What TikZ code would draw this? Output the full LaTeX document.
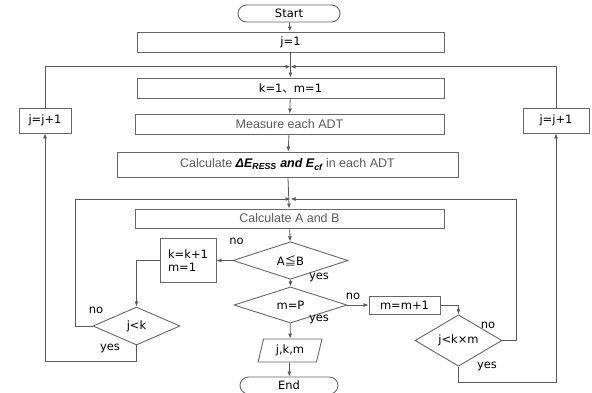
\documentclass[tikz,border=0pt]{standalone}
\usepackage{fontspec}
\setmainfont{DejaVu Sans}
\newfontfamily\thinsf{Liberation Sans}
\newfontfamily\cjk{Noto Sans CJK JP}
\usepackage{xcolor}
\usetikzlibrary{arrows.meta,positioning,shapes.geometric,shapes.misc}
\newcommand{\gtxt}[1]{{\thinsf\color{black!65}#1}}
\newcommand{\bi}[1]{{\thinsf\bfseries\itshape #1}}

\begin{document}
\begin{tikzpicture}[
  x=1pt,y=-1pt,
  font=\fontsize{11.5}{13}\selectfont,
  proc/.style={draw=black!60,line width=0.9pt,minimum height=20pt,inner sep=2pt,align=center},
  term/.style={draw=black!60,line width=0.9pt,rounded rectangle,minimum width=102pt,minimum height=17pt,inner sep=0pt},
  dec/.style={draw=black!60,line width=0.9pt,diamond,inner sep=0pt},
  io/.style={draw=black!60,line width=0.9pt,trapezium,trapezium left angle=75,trapezium right angle=105,trapezium stretches=true,minimum width=64pt,minimum height=23pt,inner sep=0pt},
  lbl/.style={inner sep=0pt},
  ar/.style={-{Latex[length=5pt,width=4pt]},draw=black!65,line width=0.8pt},
  ln/.style={draw=black!65,line width=0.8pt}
]
\useasboundingbox (0,0) rectangle (592,392);

\node[term] (start) at (289,13.5) {Start};
\node[proc,minimum width=307pt] (j1) at (290.5,42) {j=1};
\node[proc,minimum width=307pt] (km1) at (290.5,88) {k=1{\cjk 、}m=1};
\node[proc,minimum width=309pt] (meas) at (289.5,124) {\gtxt{\fontsize{12.5}{14}\selectfont Measure each ADT}};
\node[proc,minimum width=341pt,minimum height=25pt] (calcE) at (287.5,164.5) {\fontsize{12.5}{14}\selectfont\gtxt{Calculate }\bi{ΔE\textsubscript{RESS} and E\textsubscript{cf}}\gtxt{\ in each ADT}};
\node[proc,minimum width=309pt,minimum height=19pt] (calcAB) at (289.5,218.5) {\gtxt{\fontsize{12.5}{14}\selectfont Calculate A and B}};

\node[proc,minimum width=52pt,minimum height=25pt] (jjl) at (45,120.5) {j=j+1};
\node[proc,minimum width=66pt,minimum height=25pt] (jjr) at (556,120.5) {j=j+1};

\node[dec,minimum width=115pt,minimum height=33pt] (ab) at (290.5,260.5) {A{\cjk ≦}B};
\node[proc,minimum width=56pt,minimum height=44pt,align=left] (kk) at (188,260.5) {k=k+1\\m=1};
\node[dec,minimum width=87pt,minimum height=38pt] (jk) at (136.5,326) {j<k};
\node[dec,minimum width=113pt,minimum height=35pt] (mp) at (290.5,305) {m=P};
\node[proc,minimum width=71pt,minimum height=18pt] (mm) at (404.5,305) {m=m+1};
\node[dec,minimum width=87pt,minimum height=37pt] (jkm) at (458.5,340.5) {j<k×m};
\node[io] (out) at (290,350.5) {j,k,m};
\node[term,minimum width=98pt] (end) at (289,385.5) {End};

\coordinate (m1) at (290.5,66.7);
\coordinate (m2) at (290.5,199);

\node[lbl] (ab-no) at (236.5,241) {no};
\node[lbl] (ab-yes) at (319,277) {yes};
\node[lbl] (mp-no) at (353,296) {no};
\node[lbl] (mp-yes) at (319,319) {yes};
\node[lbl] (jk-no) at (96,310) {no};
\node[lbl] (jk-yes) at (110,348) {yes};
\node[lbl] (jkm-no) at (488,325) {no};
\node[lbl] (jkm-yes) at (487,366) {yes};

\draw[ar] (start) -- (j1);
\draw[ar] (j1) -- (km1);
\draw[ar] (km1) -- (meas);
\draw[ar] (meas) -- (calcE);
\draw[ar] (calcE) -- (calcAB);
\draw[ar] (calcAB) -- (ab);
\draw[ar] (ab) -- (mp);
\draw[ar] (mp) -- (out);
\draw[ar] (out) -- (end);

\draw[ar] (ab.west) -- (kk.east);
\draw[ar] (kk.west) -| (jk.north);
\draw[ar] (mp.east) -- (mm.west);
\draw[ar] (mm.east) -| (jkm.north);

\draw[ar] (jk.west) -- ++(-17,0) |- (m2);
\draw[ar] (jkm.east) -- ++(14,0) |- (m2);
\draw[ar] (jk.south) -- ++(0,16) -| (jjl.south);
\draw[ar] (jkm.south) -- ++(0,16) -| (jjr.south);
\draw[ar] (jjl.north) |- (m1);
\draw[ar] (jjr.north) |- (m1);
\end{tikzpicture}
\end{document}
